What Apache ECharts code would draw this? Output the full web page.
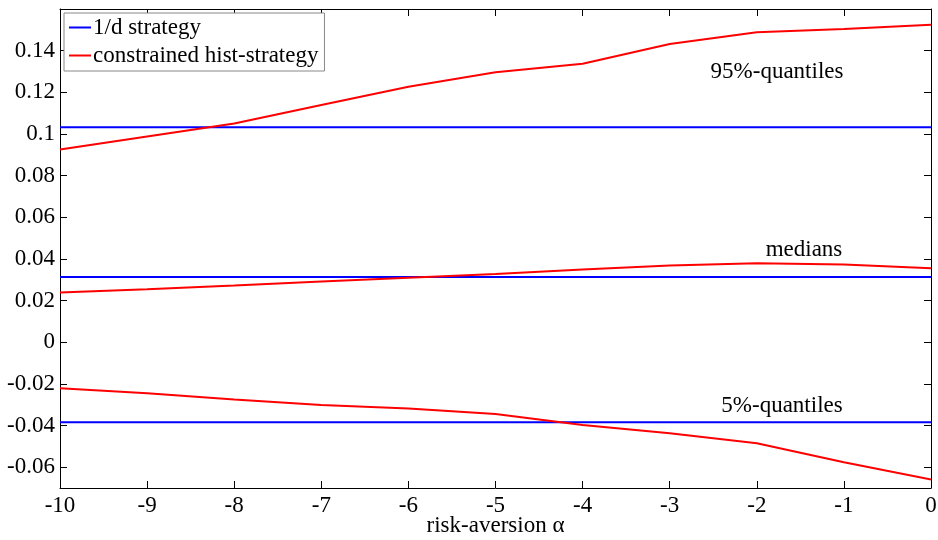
<!DOCTYPE html>
<html>
<head>
<meta charset="utf-8">
<script src="https://cdn.jsdelivr.net/npm/echarts@6/dist/echarts.min.js"></script>
<style>html,body{margin:0;padding:0;background:#fff}#c{width:938px;height:540px}</style>
</head>
<body>
<div id="c"></div>
<script>
// risk-aversion alpha values
var alpha = [-10, -9, -8, -7, -6, -5, -4, -3, -2, -1, 0];
// constrained hist-strategy
var hist95 = [0.0925, 0.0988, 0.1050, 0.1139, 0.1227, 0.1296, 0.1337, 0.1432, 0.1488, 0.1504, 0.1524];
var histMed = [0.0239, 0.0254, 0.0272, 0.0291, 0.0310, 0.0328, 0.0349, 0.0368, 0.0379, 0.0373, 0.0355];
var hist05 = [-0.0221, -0.0245, -0.0275, -0.0302, -0.0318, -0.0345, -0.0397, -0.0437, -0.0485, -0.0576, -0.0659];
// 1/d strategy (constant levels)
var oneOverD95 = 0.1032;
var oneOverDMed = 0.0313;
var oneOverD05 = -0.0384;
// tick labels
var yTicks = [-0.06, -0.04, -0.02, 0, 0.02, 0.04, 0.06, 0.08, 0.1, 0.12, 0.14];
var xTicks = [-10, -9, -8, -7, -6, -5, -4, -3, -2, -1, 0];

var FONT = 'Liberation Serif';
var FS = 23;
function pairs(ys){ return alpha.map(function(a,i){ return [a, ys[i]]; }); }
function flat(v){ return alpha.map(function(a){ return [a, v]; }); }
function fmt(v){ return String(+(+v).toFixed(2)); }

var NAME_B = '1/d strategy', NAME_R = 'constrained hist-strategy';
function line(name, color, data){
  return {name:name, type:'line', data:data, showSymbol:false, symbol:'none',
    lineStyle:{color:color, width:2}, itemStyle:{color:color}, animation:false, z:3};
}
var axLine = {show:true, onZero:false, lineStyle:{color:'#000', width:1}};

var chart = echarts.init(document.getElementById('c'), null, {renderer:'canvas'});
chart.setOption({
  animation:false,
  backgroundColor:'#fff',
  grid:{left:60, right:7, top:9, bottom:52, containLabel:false, outerBoundsMode:'none'},
  legend:{
    orient:'vertical', left:64, top:13, data:[NAME_B, NAME_R],
    icon:'rect', itemWidth:22, itemHeight:2, itemGap:5,
    backgroundColor:'#fff', borderColor:'#888', borderWidth:1,
    padding:[3,6,4,5],
    textStyle:{fontFamily:FONT, fontSize:FS, color:'#000', padding:[0,0,0,-3]}
  },
  xAxis:[{
    type:'value', min:-10, max:0, interval:1, position:'bottom',
    axisLine:axLine,
    axisTick:{show:true, inside:true, length:7, lineStyle:{color:'#000'}},
    axisLabel:{fontFamily:FONT, fontSize:FS, color:'#000', margin:6,
      formatter:function(v){ return xTicks.indexOf(v) >= 0 ? String(v) : ''; }},
    splitLine:{show:false},
    name:'risk-aversion α', nameLocation:'middle', nameGap:26, nameMoveOverlap:false,
    nameTextStyle:{fontFamily:FONT, fontSize:FS, color:'#000'}
  },{
    type:'value', min:-10, max:0, interval:1, position:'top',
    axisLine:axLine,
    axisTick:{show:true, inside:true, length:7, lineStyle:{color:'#000'}},
    axisLabel:{show:false}, splitLine:{show:false}
  }],
  yAxis:[{
    type:'value', min:-0.07, max:0.16, position:'left',
    axisLine:axLine,
    axisTick:{show:true, inside:true, length:7, customValues:yTicks, lineStyle:{color:'#000'}},
    axisLabel:{fontFamily:FONT, fontSize:FS, color:'#000', margin:5, customValues:yTicks,
      formatter:function(v){ return fmt(v); }},
    splitLine:{show:false}
  },{
    type:'value', min:-0.07, max:0.16, position:'right',
    axisLine:axLine,
    axisTick:{show:true, inside:true, length:7, customValues:yTicks, lineStyle:{color:'#000'}},
    axisLabel:{show:false}, splitLine:{show:false}
  }],
  series:[
    line(NAME_B, '#0000ff', flat(oneOverD95)),
    line(NAME_B, '#0000ff', flat(oneOverDMed)),
    line(NAME_B, '#0000ff', flat(oneOverD05)),
    line(NAME_R, '#ff0000', pairs(hist95)),
    line(NAME_R, '#ff0000', pairs(histMed)),
    line(NAME_R, '#ff0000', pairs(hist05))
  ],
  graphic:[
    {type:'text', x:777, y:72, style:{text:'95%-quantiles', font:FS+'px "Liberation Serif"', fill:'#000', align:'center', verticalAlign:'middle'}},
    {type:'text', x:804, y:250, style:{text:'medians', font:FS+'px "Liberation Serif"', fill:'#000', align:'center', verticalAlign:'middle'}},
    {type:'text', x:782, y:406, style:{text:'5%-quantiles', font:FS+'px "Liberation Serif"', fill:'#000', align:'center', verticalAlign:'middle'}}
  ]
});
</script>
</body>
</html>
